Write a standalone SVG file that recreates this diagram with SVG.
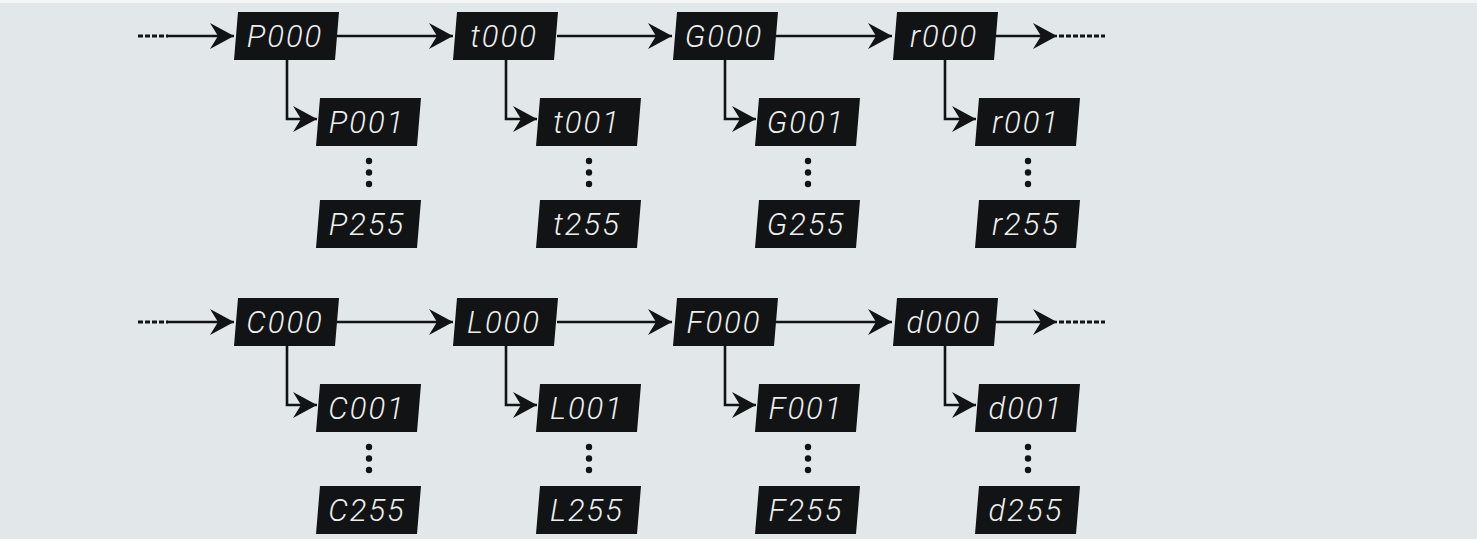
<svg xmlns="http://www.w3.org/2000/svg" width="1477" height="539" viewBox="0 0 1477 539">
<style>
.bx{fill:#121314}
.tx{fill:#eceeee;font-family:Roboto,"Liberation Sans",sans-serif;font-weight:300;font-style:italic;font-size:31px;letter-spacing:2px;text-anchor:middle}
.ln{fill:none;stroke:#121314;stroke-width:2.6}
.ds{fill:none;stroke:#121314;stroke-width:3;stroke-dasharray:5 2}
.dt{fill:#121314}
</style>
<defs>
<marker id="ah" markerUnits="userSpaceOnUse" markerWidth="28" markerHeight="28" refX="24" refY="13" orient="auto" viewBox="0 0 28 28">
<path d="M0,0 L24,13 L0,26 L8,13 Z" fill="#121314"/>
</marker>
<g id="box"><polygon points="4,0 105,0 101,48 0,48"/></g>
</defs>
<rect x="0" y="0" width="1477" height="539" fill="#e2e8ea"/>
<rect x="0" y="0" width="1477" height="3" fill="#f4f6f6"/>

<g id="connectors">
<!-- row 1 -->
<path class="ds" d="M138,36 H168"/>
<path class="ln" d="M167,36 H234" marker-end="url(#ah)"/>
<path class="ln" d="M337,36 H453" marker-end="url(#ah)"/>
<path class="ln" d="M557,36 H672" marker-end="url(#ah)"/>
<path class="ln" d="M776,36 H892" marker-end="url(#ah)"/>
<path class="ln" d="M996,36 H1057" marker-end="url(#ah)"/>
<path class="ds" d="M1059,36 H1105"/>
<path class="ln" d="M287,60 V119 H317" marker-end="url(#ah)"/>
<path class="ln" d="M506,60 V119 H537" marker-end="url(#ah)"/>
<path class="ln" d="M725,60 V119 H756" marker-end="url(#ah)"/>
<path class="ln" d="M945,60 V119 H976" marker-end="url(#ah)"/>
<!-- row 2 -->
<path class="ds" d="M138,322 H168"/>
<path class="ln" d="M167,322 H234" marker-end="url(#ah)"/>
<path class="ln" d="M337,322 H453" marker-end="url(#ah)"/>
<path class="ln" d="M557,322 H672" marker-end="url(#ah)"/>
<path class="ln" d="M776,322 H892" marker-end="url(#ah)"/>
<path class="ln" d="M996,322 H1057" marker-end="url(#ah)"/>
<path class="ds" d="M1059,322 H1105"/>
<path class="ln" d="M287,346 V405 H317" marker-end="url(#ah)"/>
<path class="ln" d="M506,346 V405 H537" marker-end="url(#ah)"/>
<path class="ln" d="M725,346 V405 H756" marker-end="url(#ah)"/>
<path class="ln" d="M945,346 V405 H976" marker-end="url(#ah)"/>
</g>

<g id="dots" class="dt">
<circle cx="369" cy="161" r="3.2"/><circle cx="369" cy="172.5" r="3.2"/><circle cx="369" cy="184" r="3.2"/>
<circle cx="589" cy="161" r="3.2"/><circle cx="589" cy="172.5" r="3.2"/><circle cx="589" cy="184" r="3.2"/>
<circle cx="808" cy="161" r="3.2"/><circle cx="808" cy="172.5" r="3.2"/><circle cx="808" cy="184" r="3.2"/>
<circle cx="1028" cy="161" r="3.2"/><circle cx="1028" cy="172.5" r="3.2"/><circle cx="1028" cy="184" r="3.2"/>
<circle cx="369" cy="447" r="3.2"/><circle cx="369" cy="458.5" r="3.2"/><circle cx="369" cy="470" r="3.2"/>
<circle cx="589" cy="447" r="3.2"/><circle cx="589" cy="458.5" r="3.2"/><circle cx="589" cy="470" r="3.2"/>
<circle cx="808" cy="447" r="3.2"/><circle cx="808" cy="458.5" r="3.2"/><circle cx="808" cy="470" r="3.2"/>
<circle cx="1028" cy="447" r="3.2"/><circle cx="1028" cy="458.5" r="3.2"/><circle cx="1028" cy="470" r="3.2"/>
</g>

<!-- row 1 nodes -->
<g id="P000" transform="translate(234,12)"><use href="#box" class="bx"/><text class="tx" x="51" y="35">P000</text></g>
<g id="P001" transform="translate(316,98)"><use href="#box" class="bx"/><text class="tx" x="51" y="35">P001</text></g>
<g id="P255" transform="translate(316,200)"><use href="#box" class="bx"/><text class="tx" x="51" y="35">P255</text></g>
<g id="t000" transform="translate(453,12)"><use href="#box" class="bx"/><text class="tx" x="51" y="35">t000</text></g>
<g id="t001" transform="translate(536,98)"><use href="#box" class="bx"/><text class="tx" x="51" y="35">t001</text></g>
<g id="t255" transform="translate(536,200)"><use href="#box" class="bx"/><text class="tx" x="51" y="35">t255</text></g>
<g id="G000" transform="translate(673,12)"><use href="#box" class="bx"/><text class="tx" x="51" y="35">G000</text></g>
<g id="G001" transform="translate(755,98)"><use href="#box" class="bx"/><text class="tx" x="51" y="35">G001</text></g>
<g id="G255" transform="translate(755,200)"><use href="#box" class="bx"/><text class="tx" x="51" y="35">G255</text></g>
<g id="r000" transform="translate(893,12)"><use href="#box" class="bx"/><text class="tx" x="51" y="35">r000</text></g>
<g id="r001" transform="translate(975,98)"><use href="#box" class="bx"/><text class="tx" x="51" y="35">r001</text></g>
<g id="r255" transform="translate(975,200)"><use href="#box" class="bx"/><text class="tx" x="51" y="35">r255</text></g>
<!-- row 2 nodes -->
<g id="C000" transform="translate(234,298)"><use href="#box" class="bx"/><text class="tx" x="51" y="35">C000</text></g>
<g id="C001" transform="translate(316,384)"><use href="#box" class="bx"/><text class="tx" x="51" y="35">C001</text></g>
<g id="C255" transform="translate(316,486)"><use href="#box" class="bx"/><text class="tx" x="51" y="35">C255</text></g>
<g id="L000" transform="translate(453,298)"><use href="#box" class="bx"/><text class="tx" x="51" y="35">L000</text></g>
<g id="L001" transform="translate(536,384)"><use href="#box" class="bx"/><text class="tx" x="51" y="35">L001</text></g>
<g id="L255" transform="translate(536,486)"><use href="#box" class="bx"/><text class="tx" x="51" y="35">L255</text></g>
<g id="F000" transform="translate(673,298)"><use href="#box" class="bx"/><text class="tx" x="51" y="35">F000</text></g>
<g id="F001" transform="translate(755,384)"><use href="#box" class="bx"/><text class="tx" x="51" y="35">F001</text></g>
<g id="F255" transform="translate(755,486)"><use href="#box" class="bx"/><text class="tx" x="51" y="35">F255</text></g>
<g id="d000" transform="translate(893,298)"><use href="#box" class="bx"/><text class="tx" x="51" y="35">d000</text></g>
<g id="d001" transform="translate(975,384)"><use href="#box" class="bx"/><text class="tx" x="51" y="35">d001</text></g>
<g id="d255" transform="translate(975,486)"><use href="#box" class="bx"/><text class="tx" x="51" y="35">d255</text></g>
</svg>
